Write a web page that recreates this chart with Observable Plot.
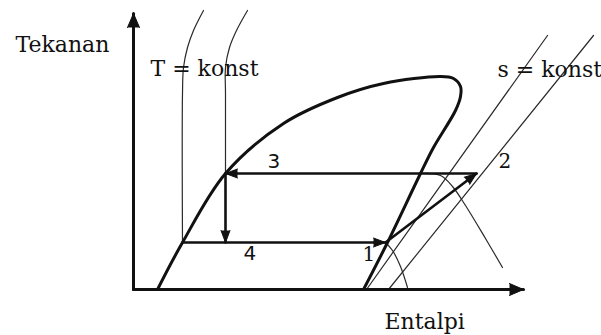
<!DOCTYPE html>
<html>
<head>
<meta charset="utf-8">
<script src="https://cdn.jsdelivr.net/npm/d3@7"></script>
<script src="https://cdn.jsdelivr.net/npm/@observablehq/plot@0.6"></script>
<style>
  html, body { margin: 0; padding: 0; background: #fff; }
  #chart { width: 601px; height: 335px; }
  #chart svg { display: block; }
</style>
</head>
<body>
<div id="chart"></div>
<script>
// Schematic pressure–enthalpy (p–h) diagram of a vapour-compression
// refrigeration cycle. Enthalpy h and pressure p are schematic units.

// Saturation dome: saturated-liquid branch, critical region, saturated-vapour branch
const domeH = [24, 49, 92, 150, 204, 250, 307, 320, 327, 327, 322, 300, 287, 254, 230];
const domeP = [0, 47, 116, 166, 192, 206, 213, 211, 203, 193, 179, 142, 116, 47, 0];

// Cycle states 1–4
const stateNames = ["1", "2", "3", "4"];
const stateH = [252, 343, 92, 92];
const stateP = [47, 116, 116, 47];
const evapStartH = 49; // evaporator line begins on the liquid line

// Isotherms (T = konst), low and high temperature:
// subcooled-liquid part (nearly vertical) and superheated-vapour part
const isoLowLiqH = [70, 60, 54, 50, 49, 49];
const isoLowLiqP = [279, 259, 242, 222, 196, 47];
const isoLowVapH = [252, 259, 267, 274];
const isoLowVapP = [47, 39, 23, 2];
const isoHighLiqH = [114, 103, 96, 92, 92, 92];
const isoHighLiqP = [279, 259, 242, 222, 196, 116];
const isoHighVapH = [287, 307, 319, 332, 352, 369];
const isoHighVapP = [116, 114, 103, 84, 51, 22];

// Isentropes (s = konst)
const isenA_H = [414, 233];
const isenA_P = [254, 0];
const isenB_H = [460, 255];
const isenB_P = [254, 0];

// Axis extents
const axisH = 390;
const axisP = 276;

const pts = (hs, ps, part = 0) => hs.map((h, i) => ({h, p: ps[i], part}));

const dome = pts(domeH, domeP);
const isotherms = [
  ...pts(isoLowLiqH, isoLowLiqP, "lowLiq"),
  ...pts(isoLowVapH, isoLowVapP, "lowVap"),
  ...pts(isoHighLiqH, isoHighLiqP, "highLiq"),
  ...pts(isoHighVapH, isoHighVapP, "highVap")
];
const isentropes = [
  ...pts(isenA_H, isenA_P, "a"),
  ...pts(isenB_H, isenB_P, "b")
];
const state = Object.fromEntries(stateNames.map((n, i) => [n, {h: stateH[i], p: stateP[i]}]));

// Cycle processes, each drawn with an arrowhead at its end
const processes = [
  [{h: evapStartH, p: state["4"].p}, state["1"]], // evaporation 4 → 1
  [state["1"], state["2"]],                        // compression 1 → 2
  [state["2"], state["3"]],                        // condensation 2 → 3
  [state["3"], state["4"]]                         // expansion 3 → 4
];
const heading = (a, b) => Math.atan2(b.h - a.h, b.p - a.p) * 180 / Math.PI;
const cycleHeads = processes.map(([a, b]) => ({h: b.h, p: b.p, angle: heading(a, b)}));

const axes = [
  [{h: 0, p: 0}, {h: 0, p: axisP}],
  [{h: 0, p: 0}, {h: axisH, p: 0}]
];
const axisHeads = axes.map(([a, b]) => ({h: b.h, p: b.p, angle: heading(a, b)}));

const serif = "DejaVu Serif";
const sans = "DejaVu Sans";
const ink = "#111";
const thin = "#2a2a2a";
const label = {fill: ink, textAnchor: "start", lineAnchor: "bottom"};

const chart = Plot.plot({
  width: 601,
  height: 335,
  margin: 0,
  x: {domain: [0, axisH], range: [133, 523], axis: null},
  y: {domain: [0, axisP], range: [289, 13], axis: null},
  style: {background: "transparent"},
  marks: [
    // thin property lines
    Plot.line(isotherms, {x: "h", y: "p", z: "part", stroke: thin, strokeWidth: 1.2, curve: "catmull-rom"}),
    Plot.line(isentropes, {x: "h", y: "p", z: "part", stroke: thin, strokeWidth: 1.2}),

    // saturation dome
    Plot.line(dome, {x: "h", y: "p", stroke: ink, strokeWidth: 3, curve: "catmull-rom"}),

    // cycle
    ...processes.map(seg => Plot.line(seg, {x: "h", y: "p", stroke: ink, strokeWidth: 2.6})),
    Plot.vector(cycleHeads, {
      x: "h", y: "p", rotate: "angle", length: 12, r: 4.5, anchor: "end",
      shape: "spike", fill: ink, stroke: ink, strokeWidth: 1, fillOpacity: 1
    }),

    // axes
    ...axes.map(seg => Plot.line(seg, {x: "h", y: "p", stroke: ink, strokeWidth: 3})),
    Plot.vector(axisHeads, {
      x: "h", y: "p", rotate: "angle", length: 14, r: 6, anchor: "end",
      shape: "spike", fill: ink, stroke: ink, strokeWidth: 1, fillOpacity: 1
    }),

    // state labels
    Plot.text([state["1"]], {x: "h", y: "p", text: ["1"], dx: -23, dy: 18, fontFamily: serif, fontSize: 20, ...label}),
    Plot.text([state["2"]], {x: "h", y: "p", text: ["2"], dx: 22, dy: -6, fontFamily: serif, fontSize: 20, ...label}),
    Plot.text([state["3"]], {x: "h", y: "p", text: ["3"], dx: 42, dy: -6, fontFamily: sans, fontSize: 20, ...label}),
    Plot.text([state["4"]], {x: "h", y: "p", text: ["4"], dx: 18, dy: 17, fontFamily: sans, fontSize: 20, ...label}),

    // curve family labels
    Plot.text(["T = konst"], {x: 17, y: 214, text: d => d, fontFamily: serif, fontSize: 22, ...label}),
    Plot.text(["s = konst"], {x: 364, y: 213, text: d => d, fontFamily: serif, fontSize: 22, ...label}),

    // axis titles
    Plot.text(["Tekanan"], {x: -118, y: 238, text: d => d, fontFamily: serif, fontSize: 22, ...label}),
    Plot.text(["Entalpi"], {x: 251, y: -39, text: d => d, fontFamily: serif, fontSize: 22, ...label})
  ]
});

document.getElementById("chart").append(chart);
</script>
</body>
</html>
